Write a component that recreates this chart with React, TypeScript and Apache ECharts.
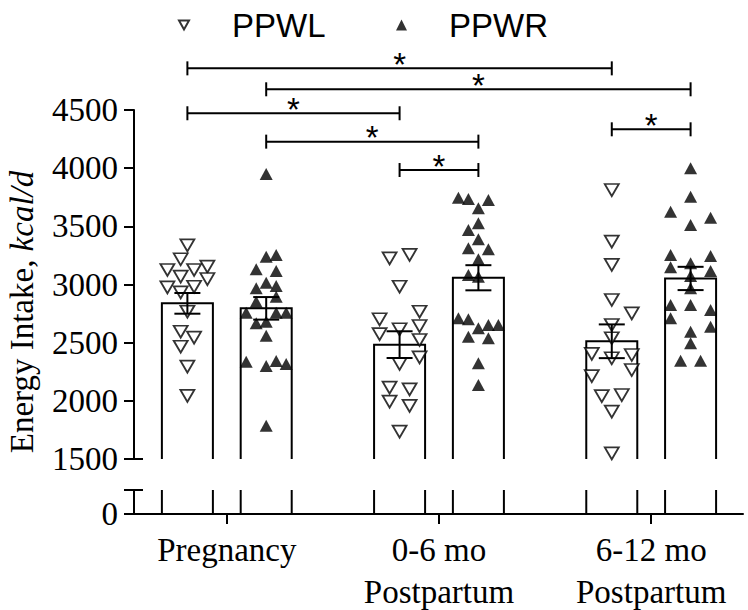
import React, { useEffect, useRef } from 'react';
import * as echarts from 'echarts';

// ---------- data ----------
const GROUPS = ['Pregnancy', '0-6 mo\nPostpartum', '6-12 mo\nPostpartum'];
const SERIES_NAMES = ['PPWL', 'PPWR'];

const Y_MIN = 1500;
const Y_MAX = 4500;
const Y_INTERVAL = 500;
const LOWER_MAX = 100; // lower (broken) segment, only 0 is labelled

const MEANS_PPWL = [2838, 2483, 2512];
const MEANS_PPWR = [2795, 3058, 3052];
const SEM_PPWL = [89, 115, 145];
const SEM_PPWR = [97, 108, 100];

// points: [jitter slot, kcal/d]
const PPWL_PREG = [[0, 3337], [-0.67, 3217], [-2, 3125], [0.67, 3125], [2, 3153], [-0.67, 3067], [2, 3047], [-2, 2976], [-0.67, 2933], [0.67, 2981], [0, 2766], [-0.67, 2594], [0.67, 2543], [-0.67, 2465], [0, 2294], [0, 2042]];
const PPWR_PREG = [[0, 3950], [0, 3239], [1, 3254], [-1, 3131], [1, 3116], [0, 3016], [-1, 2967], [1, 2987], [-1, 2852], [1, 2895], [-2, 2758], [1, 2758], [2, 2758], [-1, 2666], [0, 2680], [0, 2560], [-2, 2336], [0, 2299], [1, 2342], [2, 2317], [0, 1786]];
const PPWL_06 = [[-1, 3225], [1, 3254], [0, 2981], [2, 2766], [-2, 2701], [2, 2643], [-2, 2574], [0, 2615], [2, 2523], [2, 2374], [0, 2317], [-1, 2113], [1, 2099], [-1, 1993], [1, 1956], [0, 1735]];
const PPWR_06 = [[-2, 3746], [-1, 3735], [1, 3726], [0, 3655], [-1, 3469], [0, 3526], [0, 3389], [-1, 3311], [1, 3303], [0, 3217], [-1, 3082], [0, 3067], [-2, 2709], [-1, 2701], [0, 2624], [1, 2652], [2, 2652], [-1, 2551], [1, 2538], [0, 2323], [0, 2136]];
const PPWL_612 = [[0, 3812], [0, 3368], [0, 3168], [0, 2867], [2, 2752], [0, 2652], [0, 2538], [-2, 2403], [0, 2366], [2, 2394], [-2, 2213], [2, 2265], [-1, 2041], [1, 2050], [0, 1907], [0, 1549]];
const PPWR_612 = [[0, 3999], [0, 3755], [-2, 3626], [2, 3574], [0, 3512], [-2, 3254], [2, 3245], [-2, 3148], [0, 3182], [2, 3116], [0, 3073], [0, 2967], [-2, 2824], [0, 2824], [2, 2781], [-2, 2709], [2, 2637], [0, 2594], [0, 2494], [-1, 2345], [1, 2345]];

// significance brackets: [groupA, seriesA, groupB, seriesB, level (kcal/d)]
const BRACKETS = [
  [0, 0, 2, 0, 4858],
  [0, 1, 2, 1, 4678],
  [0, 0, 1, 0, 4472],
  [0, 1, 1, 1, 4228],
  [2, 0, 2, 1, 4334],
  [1, 0, 1, 1, 3984],
];

// ---------- layout / style constants ----------
const X_MIN = -0.4373;
const X_MAX = 2.4327;
const BAR_OFF = 0.1857;
const BAR_HW = 0.1202;
const JITTER = 0.0471;
const SERIF = '"Liberation Serif", "Times New Roman", serif';
const SANS = '"Liberation Sans", Arial, sans-serif';

const barX = (g: number, s: number) => g + (s === 0 ? -BAR_OFF : BAR_OFF);

const PPWL_POINTS = [PPWL_PREG, PPWL_06, PPWL_612];
const PPWR_POINTS = [PPWR_PREG, PPWR_06, PPWR_612];

function pointsFor(groups: number[][][], s: number) {
  const out: number[][] = [];
  groups.forEach((pts, g) => {
    pts.forEach(([j, v]) => out.push([barX(g, s) + j * JITTER, v]));
  });
  return out;
}

function buildOption() {
  const barData: number[][] = [];
  const errData: number[][] = [];
  GROUPS.forEach((_, g) => {
    barData.push([barX(g, 0), MEANS_PPWL[g]]);
    barData.push([barX(g, 1), MEANS_PPWR[g]]);
    errData.push([barX(g, 0), MEANS_PPWL[g], SEM_PPWL[g]]);
    errData.push([barX(g, 1), MEANS_PPWR[g], SEM_PPWR[g]]);
  });
  const bracketData = BRACKETS.map(([ga, sa, gb, sb, lv]) => [barX(ga, sa), barX(gb, sb), lv]);

  const line = (a: number[], b: number[]) => ({
    type: 'line',
    shape: { x1: a[0], y1: a[1], x2: b[0], y2: b[1] },
    style: { stroke: '#000', lineWidth: 2 },
  });

  const yLabel = { margin: 16, color: '#000', fontFamily: SERIF, fontSize: 33 };

  return {
    animation: false,
    backgroundColor: '#fff',
    legend: [
      {
        data: [{ name: 'PPWL', icon: 'path://M0,0L10,0L5,9Z' }],
        left: 178, top: 8, padding: 0, itemWidth: 10, itemHeight: 10,
        symbolRotate: 0, selectedMode: false,
        textStyle: { fontFamily: SANS, fontSize: 33, color: '#000', lineHeight: 34, padding: [0, 0, 0, 38] },
      },
      {
        data: [{ name: 'PPWR', icon: 'triangle' }],
        left: 396, top: 8, padding: 0, itemWidth: 11, itemHeight: 11,
        symbolRotate: 0, selectedMode: false,
        textStyle: { fontFamily: SANS, fontSize: 33, color: '#000', lineHeight: 34, padding: [0, 0, 0, 37] },
      },
    ],
    graphic: [
      {
        type: 'text', x: 22, y: 312, rotation: Math.PI / 2,
        style: {
          text: '{a|Energy Intake, }{b|kcal/d}',
          align: 'center', verticalAlign: 'middle',
          rich: {
            a: { fontFamily: SERIF, fontSize: 33, fill: '#000' },
            b: { fontFamily: SERIF, fontSize: 33, fontStyle: 'italic', fill: '#000' },
          },
        },
      },
    ],
    grid: [
      { left: 134, right: 5, top: 110, height: 349, containLabel: false, outerBoundsMode: 'none' },
      { left: 134, right: 5, top: 490, height: 24, containLabel: false, outerBoundsMode: 'none' },
    ],
    xAxis: [
      { type: 'value', gridIndex: 0, min: X_MIN, max: X_MAX, show: false },
      {
        type: 'value', gridIndex: 1, min: X_MIN, max: X_MAX, position: 'bottom',
        splitLine: { show: false },
        axisLine: { onZero: false, lineStyle: { color: '#000', width: 2 } },
        axisTick: { customValues: [0, 1, 2], length: 10, lineStyle: { color: '#000', width: 2 } },
        axisLabel: {
          customValues: [0, 1, 2],
          formatter: (v: number) => GROUPS[Math.round(v)] ?? '',
          margin: 15, color: '#000', fontFamily: SERIF, fontSize: 33, lineHeight: 42,
        },
      },
    ],
    yAxis: [
      {
        type: 'value', gridIndex: 0, min: Y_MIN, max: Y_MAX, interval: Y_INTERVAL,
        splitLine: { show: false },
        axisLine: { show: true, onZero: false, lineStyle: { color: '#000', width: 2 } },
        axisTick: { show: true, length: 10, lineStyle: { color: '#000', width: 2 } },
        axisLabel: { ...yLabel, formatter: (v: number) => String(v) },
      },
      {
        type: 'value', gridIndex: 1, min: 0, max: LOWER_MAX, interval: LOWER_MAX,
        splitLine: { show: false },
        axisLine: { show: true, onZero: false, lineStyle: { color: '#000', width: 2 } },
        axisTick: { show: true, length: 10, lineStyle: { color: '#000', width: 2 } },
        axisLabel: { ...yLabel, formatter: (v: number) => (v === 0 ? '0' : '') },
      },
    ],
    series: [
      // bars, upper segment
      {
        type: 'custom', xAxisIndex: 0, yAxisIndex: 0, z: 1, silent: true,
        data: barData,
        renderItem: (_p: any, api: any) => {
          const x = api.value(0), v = api.value(1);
          const pts = [
            api.coord([x - BAR_HW, Y_MIN]), api.coord([x - BAR_HW, v]),
            api.coord([x + BAR_HW, v]), api.coord([x + BAR_HW, Y_MIN]),
          ];
          return { type: 'polyline', shape: { points: pts }, style: { stroke: '#000', lineWidth: 2, fill: 'none' } };
        },
      },
      // bars, lower segment
      {
        type: 'custom', xAxisIndex: 1, yAxisIndex: 1, z: 1, silent: true,
        data: barData.map((d) => [d[0], LOWER_MAX]),
        renderItem: (_p: any, api: any) => {
          const x = api.value(0);
          return {
            type: 'group',
            children: [
              line(api.coord([x - BAR_HW, 0]), api.coord([x - BAR_HW, LOWER_MAX])),
              line(api.coord([x + BAR_HW, 0]), api.coord([x + BAR_HW, LOWER_MAX])),
            ],
          };
        },
      },
      // axis break caps
      {
        type: 'custom', xAxisIndex: 0, yAxisIndex: 0, z: 5, silent: true, clip: false,
        data: [[X_MIN, Y_MIN]],
        renderItem: (_p: any, api: any) => {
          const p = api.coord([api.value(0), api.value(1)]);
          return line([p[0] - 9, p[1]], [p[0] + 9, p[1]]);
        },
      },
      {
        type: 'custom', xAxisIndex: 1, yAxisIndex: 1, z: 5, silent: true, clip: false,
        data: [[X_MIN, LOWER_MAX]],
        renderItem: (_p: any, api: any) => {
          const p = api.coord([api.value(0), api.value(1)]);
          return line([p[0] - 9, p[1]], [p[0] + 9, p[1]]);
        },
      },
      // individual points
      {
        name: SERIES_NAMES[0], type: 'scatter', xAxisIndex: 0, yAxisIndex: 0, z: 2,
        data: pointsFor(PPWL_POINTS, 0),
        symbol: 'triangle', symbolRotate: 180, symbolSize: [14, 12],
        itemStyle: { color: '#fff', borderColor: '#000', borderWidth: 1.8 },
      },
      {
        name: SERIES_NAMES[1], type: 'scatter', xAxisIndex: 0, yAxisIndex: 0, z: 2,
        data: pointsFor(PPWR_POINTS, 1),
        symbol: 'triangle', symbolSize: [13, 12],
        itemStyle: { color: '#000', borderColor: '#000', borderWidth: 0 },
      },
      // error bars (mean ± SEM)
      {
        type: 'custom', xAxisIndex: 0, yAxisIndex: 0, z: 3, silent: true,
        data: errData,
        renderItem: (_p: any, api: any) => {
          const x = api.value(0), m = api.value(1), s = api.value(2);
          const hi = api.coord([x, m + s]);
          const lo = api.coord([x, m - s]);
          return {
            type: 'group',
            children: [
              line(hi, lo),
              line([hi[0] - 13, hi[1]], [hi[0] + 13, hi[1]]),
              line([lo[0] - 13, lo[1]], [lo[0] + 13, lo[1]]),
            ],
          };
        },
      },
      // significance brackets
      {
        type: 'custom', xAxisIndex: 0, yAxisIndex: 0, z: 3, silent: true, clip: false,
        data: bracketData,
        renderItem: (_p: any, api: any) => {
          const a = api.coord([api.value(0), api.value(2)]);
          const b = api.coord([api.value(1), api.value(2)]);
          return {
            type: 'group',
            children: [
              line(a, b),
              line([a[0], a[1] - 7], [a[0], a[1] + 7]),
              line([b[0], b[1] - 7], [b[0], b[1] + 7]),
              {
                type: 'text', x: (a[0] + b[0]) / 2, y: a[1] - 4,
                style: { text: '*', fill: '#000', fontFamily: SANS, fontSize: 33, align: 'center', verticalAlign: 'middle' },
              },
            ],
          };
        },
      },
    ],
  };
}

export default function App() {
  const ref = useRef<HTMLDivElement>(null);
  useEffect(() => {
    document.body.style.margin = '0';
    const chart = echarts.init(ref.current!, null, { renderer: 'svg' });
    chart.setOption(buildOption() as any);
    return () => chart.dispose();
  }, []);
  return <div ref={ref} style={{ width: 748, height: 610 }} />;
}
